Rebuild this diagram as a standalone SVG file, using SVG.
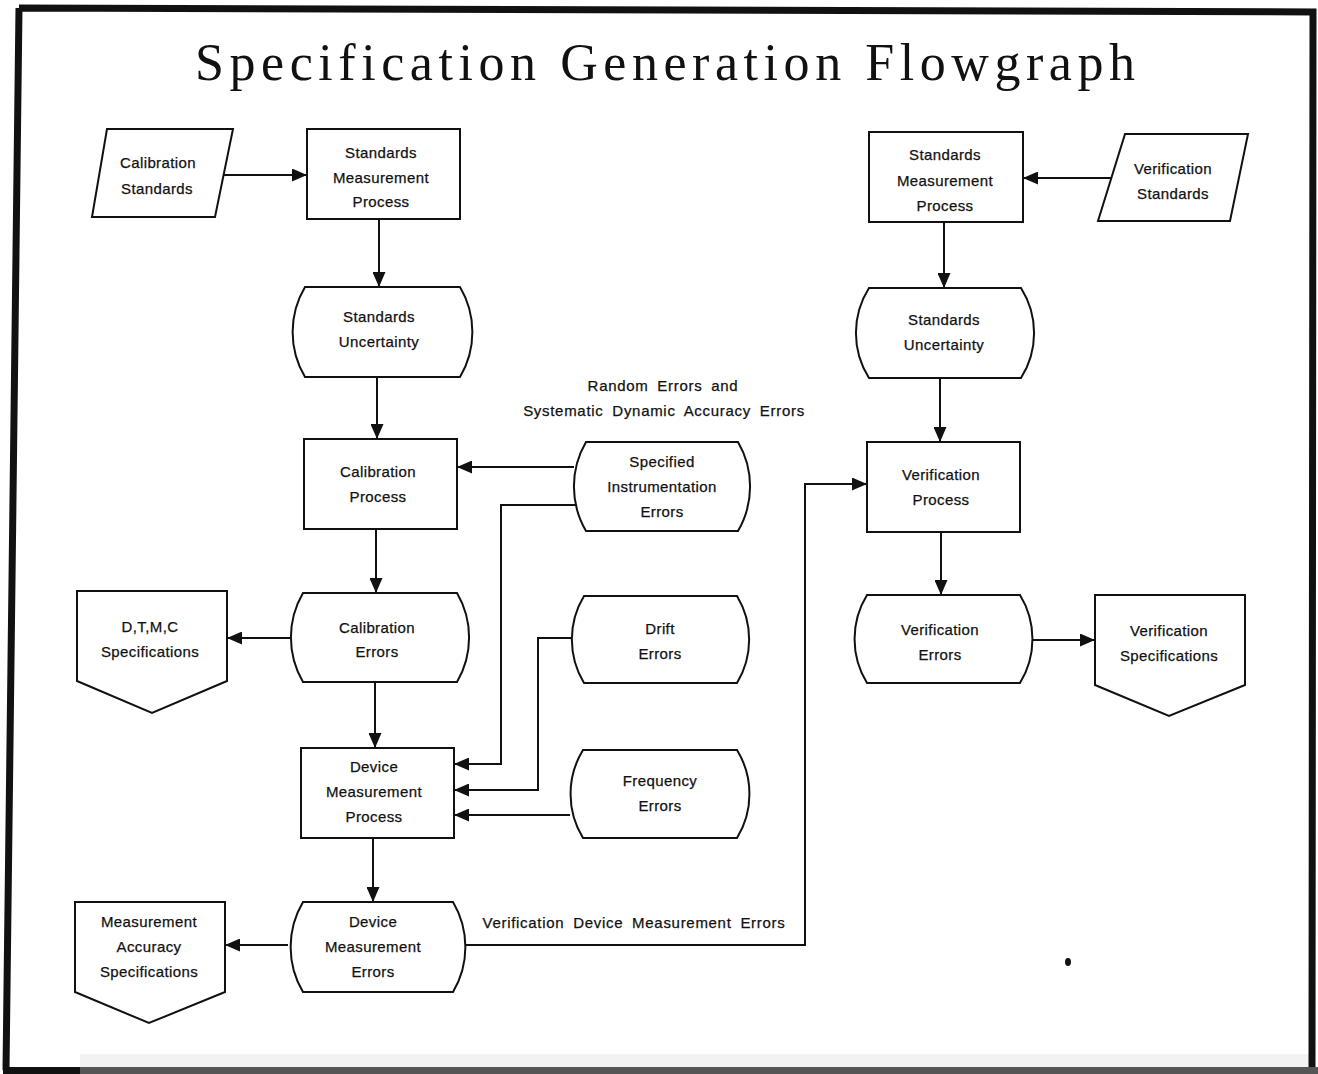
<svg xmlns="http://www.w3.org/2000/svg" width="1318" height="1074" viewBox="0 0 1318 1074">
<defs>
<marker id="ah" markerUnits="userSpaceOnUse" markerWidth="15" markerHeight="13" refX="15" refY="6.5" orient="auto">
<path d="M0,0 L15,6.5 L0,13 z" fill="#111"/>
</marker>
<style>
.s{fill:#fff;stroke:#111;stroke-width:2}
.t{font-family:"Liberation Sans",Arial,sans-serif;font-size:15px;fill:#111;stroke:#111;stroke-width:0.25px;text-anchor:middle;letter-spacing:0.4px}
.l{letter-spacing:0.7px;word-spacing:4px}
.c{fill:none;stroke:#111;stroke-width:2;marker-end:url(#ah)}
</style>
</defs>
<rect x="0" y="0" width="1318" height="1074" fill="#fff"/>
<!-- frame -->
<rect x="80" y="1054" width="1230" height="13" fill="#f2f2f2"/>
<path d="M19,8 L1313,12 L1312,1068 M19,8 L6,1070" fill="none" stroke="#111" stroke-width="7"/>
<rect x="3" y="1067" width="78" height="7" fill="#111"/>
<rect x="80" y="1067" width="1238" height="7" fill="#555"/>
<text x="665" y="80" font-family="'Liberation Serif','Times New Roman',serif" font-size="52" fill="#111" text-anchor="middle" textLength="940" lengthAdjust="spacing">Specification Generation Flowgraph</text>

<g id="connectors">
<path class="c" d="M224,175 L307,175"/>
<path class="c" d="M379,219 L379,287"/>
<path class="c" d="M377,377 L377,439"/>
<path class="c" d="M574,467 L457,467"/>
<path class="c" d="M577,505 L501,505 L501,764 L454,764"/>
<path class="c" d="M376,529 L376,593"/>
<path class="c" d="M291,638 L227,638"/>
<path class="c" d="M375,682 L375,748"/>
<path class="c" d="M571,638 L538,638 L538,790 L454,790"/>
<path class="c" d="M570,815 L454,815"/>
<path class="c" d="M373,838 L373,902"/>
<path class="c" d="M288,945 L225,945"/>
<path class="c" d="M465,945 L805,945 L805,484 L867,484"/>
<path class="c" d="M1111,178 L1023,178"/>
<path class="c" d="M944,222 L944,288"/>
<path class="c" d="M940,378 L940,442"/>
<path class="c" d="M941,532 L941,595"/>
<path class="c" d="M1032,640 L1095,640"/>
</g>

<g id="calibration-standards">
<path class="s" d="M107,129 L233,129 L215,217 L92,217 z"/>
<text class="t" x="158" y="168">Calibration</text>
<text class="t" x="157" y="194">Standards</text>
</g>
<g id="standards-measurement-left">
<rect class="s" x="307" y="129" width="153" height="90"/>
<text class="t" x="381" y="158">Standards</text>
<text class="t" x="381" y="183">Measurement</text>
<text class="t" x="381" y="207">Process</text>
</g>
<g id="standards-uncertainty-left">
<path class="s" d="M305,287 L460,287 A88,88 0 0 1 460,377 L305,377 A88,88 0 0 1 305,287 z"/>
<text class="t" x="379" y="322">Standards</text>
<text class="t" x="379" y="347">Uncertainty</text>
</g>
<g id="random-errors-label">
<text class="t l" x="663" y="391">Random Errors and</text>
<text class="t l" x="664" y="416">Systematic Dynamic Accuracy Errors</text>
</g>
<g id="calibration-process">
<rect class="s" x="304" y="439" width="153" height="90"/>
<text class="t" x="378" y="477">Calibration</text>
<text class="t" x="378" y="502">Process</text>
</g>
<g id="specified-instrumentation-errors">
<path class="s" d="M586,442 L738,442 A88,88 0 0 1 738,531 L586,531 A88,88 0 0 1 586,442 z"/>
<text class="t" x="662" y="467">Specified</text>
<text class="t" x="662" y="492">Instrumentation</text>
<text class="t" x="662" y="517">Errors</text>
</g>
<g id="calibration-errors">
<path class="s" d="M303,593 L457,593 A88,88 0 0 1 457,682 L303,682 A88,88 0 0 1 303,593 z"/>
<text class="t" x="377" y="633">Calibration</text>
<text class="t" x="377" y="657">Errors</text>
</g>
<g id="dtmc-specifications">
<path class="s" d="M77,591 L227,591 L227,681 L152,713 L77,681 z"/>
<text class="t" x="150" y="632">D,T,M,C</text>
<text class="t" x="150" y="657">Specifications</text>
</g>
<g id="drift-errors">
<path class="s" d="M584,596 L737,596 A84,84 0 0 1 737,683 L584,683 A84,84 0 0 1 584,596 z"/>
<text class="t" x="660" y="634">Drift</text>
<text class="t" x="660" y="659">Errors</text>
</g>
<g id="device-measurement-process">
<rect class="s" x="301" y="748" width="153" height="90"/>
<text class="t" x="374" y="772">Device</text>
<text class="t" x="374" y="797">Measurement</text>
<text class="t" x="374" y="822">Process</text>
</g>
<g id="frequency-errors">
<path class="s" d="M583,750 L737,750 A84,84 0 0 1 737,838 L583,838 A84,84 0 0 1 583,750 z"/>
<text class="t" x="660" y="786">Frequency</text>
<text class="t" x="660" y="811">Errors</text>
</g>
<g id="device-measurement-errors">
<path class="s" d="M303,902 L453,902 A88,88 0 0 1 453,992 L303,992 A88,88 0 0 1 303,902 z"/>
<text class="t" x="373" y="927">Device</text>
<text class="t" x="373" y="952">Measurement</text>
<text class="t" x="373" y="977">Errors</text>
</g>
<g id="measurement-accuracy-specifications">
<path class="s" d="M75,902 L225,902 L225,992 L149,1023 L75,992 z"/>
<text class="t" x="149" y="927">Measurement</text>
<text class="t" x="149" y="952">Accuracy</text>
<text class="t" x="149" y="977">Specifications</text>
</g>
<g id="verification-device-label">
<text class="t l" x="634" y="928">Verification Device Measurement Errors</text>
</g>
<g id="standards-measurement-right">
<rect class="s" x="869" y="132" width="154" height="90"/>
<text class="t" x="945" y="160">Standards</text>
<text class="t" x="945" y="186">Measurement</text>
<text class="t" x="945" y="211">Process</text>
</g>
<g id="verification-standards">
<path class="s" d="M1125,134 L1248,134 L1230,221 L1098,221 z"/>
<text class="t" x="1173" y="174">Verification</text>
<text class="t" x="1173" y="199">Standards</text>
</g>
<g id="standards-uncertainty-right">
<path class="s" d="M869,288 L1021,288 A84,84 0 0 1 1021,378 L869,378 A84,84 0 0 1 869,288 z"/>
<text class="t" x="944" y="325">Standards</text>
<text class="t" x="944" y="350">Uncertainty</text>
</g>
<g id="verification-process">
<rect class="s" x="867" y="442" width="153" height="90"/>
<text class="t" x="941" y="480">Verification</text>
<text class="t" x="941" y="505">Process</text>
</g>
<g id="verification-errors">
<path class="s" d="M867,595 L1020,595 A84,84 0 0 1 1020,683 L867,683 A84,84 0 0 1 867,595 z"/>
<text class="t" x="940" y="635">Verification</text>
<text class="t" x="940" y="660">Errors</text>
</g>
<g id="verification-specifications">
<path class="s" d="M1095,595 L1245,595 L1245,685 L1169,716 L1095,685 z"/>
<text class="t" x="1169" y="636">Verification</text>
<text class="t" x="1169" y="661">Specifications</text>
</g>
<ellipse cx="1068" cy="962" rx="3" ry="4" fill="#111"/>
</svg>
